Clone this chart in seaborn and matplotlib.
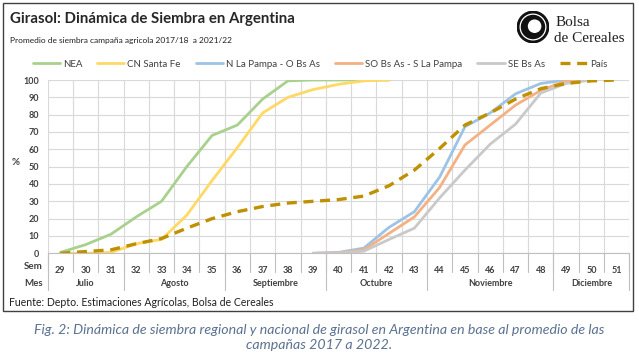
import numpy as np
import pandas as pd
import matplotlib
matplotlib.use("Agg")
import matplotlib.pyplot as plt
import matplotlib.transforms as mtransforms
from matplotlib.patches import Rectangle, Circle
import seaborn as sns

# weeks 29..51 of the year
weeks = list(range(29, 52))
nan = np.nan

nea = [0.5, 5, 11, 21, 30, 50, 68, 74, 89, 99.5, 100, 100, 100, 100,
       nan, nan, nan, nan, nan, nan, nan, nan, nan]
cn_santa_fe = [0, 0, 0.5, 5.5, 8, 22, 42, 61, 81, 90, 94.5, 97.5, 99.5, 100,
               nan, nan, nan, nan, nan, nan, nan, nan, nan]
n_la_pampa = [nan] * 10 + [0, 0.5, 3, 15, 24, 44, 73, 81, 92, 98, 100, 100, nan]
so_bs_as = [nan] * 10 + [0, 0.3, 2, 11.5, 21, 38, 62.5, 74, 85.5, 94, 99.5, 100, nan]
se_bs_as = [nan] * 10 + [0, 0.2, 1.2, 8, 14.5, 32, 48, 63, 74.5, 92.5, 98, 100, nan]
pais = [0, 1, 2, 5.5, 8.5, 14.5, 20, 24, 27, 29, 30, 31, 33, 39, 48, 60.5,
        74, 81, 89, 95, 98, 99.5, 100]

series_names = ["NEA", "CN Santa Fe", "N La Pampa - O Bs As",
                "SO Bs As - S La Pampa", "SE Bs As", "País"]
series_values = [nea, cn_santa_fe, n_la_pampa, so_bs_as, se_bs_as, pais]
series_colors = ["#A9D18E", "#FFD966", "#9DC3E6", "#F4B183", "#C9C9C9", "#BF9000"]

months = ["Julio", "Agosto", "Septiembre", "Octubre", "Noviembre", "Diciembre"]
month_weeks = [3, 4, 4, 4, 5, 3]

title = "Girasol: Dinámica de Siembra en Argentina"
subtitle = "Promedio de siembra campaña agricola 2017/18  a 2021/22"
source = "Fuente: Depto. Estimaciones Agrícolas, Bolsa de Cereales"
caption = ("Fig. 2: Dinámica de siembra regional y nacional de girasol en Argentina en base al promedio de las\n"
           "campañas 2017 a 2022.")

sns.set_theme(style="white")
plt.rcParams["font.family"] = ["Lato", "DejaVu Sans"]

W, H = 639, 356
fig = plt.figure(figsize=(W / 100, H / 100), dpi=100)
ax = fig.add_axes([47.7 / W, 1 - 253.3 / H, (629.3 - 47.7) / W, (253.3 - 80) / H])

x = np.arange(len(weeks))
for name, vals, col in zip(series_names, series_values, series_colors):
    df = pd.DataFrame({"x": x, "y": vals}).dropna()
    if name == "País":
        sns.lineplot(data=df, x="x", y="y", ax=ax, color=col, lw=2.4,
                     linestyle=(0, (3, 2)), label=name, zorder=5)
    else:
        sns.lineplot(data=df, x="x", y="y", ax=ax, color=col, lw=2.0,
                     label=name, solid_joinstyle="round")

ax.set_xlim(-0.5, len(weeks) - 0.5)
ax.set_ylim(0, 100)
ax.set_yticks(range(0, 101, 10))
ax.set_xticks(x)
ax.set_xticklabels(weeks)
ax.set_xticks(np.arange(-0.5, len(weeks), 1), minor=True)
ax.grid(False)
ax.grid(axis="y", which="major", color="#D9D9D9", lw=0.8)
ax.grid(axis="x", which="minor", color="#D9D9D9", lw=0.8)
ax.tick_params(axis="both", which="both", length=0)
ax.tick_params(axis="x", pad=9)
ax.tick_params(axis="y", pad=6)
for lab in ax.get_xticklabels() + ax.get_yticklabels():
    lab.set_fontsize(6.5)
    lab.set_fontweight("bold")
    lab.set_color("#404040")
ax.set_xlabel("")
ax.set_ylabel("%", rotation=0, fontsize=7, fontweight="bold", color="#404040")
ax.yaxis.set_label_coords(-0.055, 0.5)
for s in ["top", "right", "left"]:
    ax.spines[s].set_visible(False)
ax.spines["bottom"].set_color("#BFBFBF")
ax.spines["bottom"].set_linewidth(0.8)

# category table below the axis
trans = mtransforms.blended_transform_factory(ax.transData, ax.transAxes)
px = 1 / (253.3 - 80)
for b in np.arange(-0.5, len(weeks), 1):
    ax.plot([b, b], [0, -18.4 * px], transform=trans, color="#BFBFBF", lw=0.8, clip_on=False)
edges = np.concatenate([[0], np.cumsum(month_weeks)]) - 0.5
for b in edges:
    ax.plot([b, b], [0, -37 * px], transform=trans, color="#BFBFBF", lw=0.8, clip_on=False)
for m, a, b in zip(months, edges[:-1], edges[1:]):
    ax.text((a + b) / 2, -30.7 * px, m, transform=trans, ha="center", va="center",
            fontsize=6.5, fontweight="bold", color="#404040")
fig.text(33.3 / W, 1 - 266.7 / H, "Sem", ha="center", va="center", fontsize=7,
         fontweight="bold", color="#404040")
fig.text(33.3 / W, 1 - 284 / H, "Mes", ha="center", va="center", fontsize=7,
         fontweight="bold", color="#404040")

leg = ax.legend(ncol=6, loc="center", bbox_to_anchor=(0.468, 1.092), frameon=False,
                fontsize=7, handlelength=2.8, columnspacing=1.55, handletextpad=0.3)
for t in leg.get_texts():
    t.set_color("#404040")

# header, source, frame and caption
fig.text(10 / W, 1 - 19 / H, title, ha="left", va="center", fontsize=10.8,
         fontweight="bold", color="#262626")
fig.text(10 / W, 1 - 40 / H, subtitle, ha="left", va="center", fontsize=6, color="#202020")
fig.text(9 / W, 1 - 302 / H, source, ha="left", va="center", fontsize=7.6, color="#202020")
fig.add_artist(Rectangle((3 / W, 1 - 311 / H), 630 / W, 308 / H, transform=fig.transFigure,
                         fill=False, edgecolor="#404040", lw=1.0))
fig.text(0.5, 1 - 337.5 / H, caption, ha="center", va="center", fontsize=10.2,
         style="italic", color="#5B7190", linespacing=1.3)

# logo
lax = fig.add_axes([517 / W, 1 - 43 / H, 32 / W, 32 / H])
lax.set_aspect("equal")
lax.set_xlim(-1, 1)
lax.set_ylim(-1, 1)
lax.axis("off")
lax.add_patch(Circle((0, 0), 0.98, color="#111111"))
lax.add_patch(Circle((0, 0), 0.80, color="white"))
lax.add_patch(Circle((0, 0), 0.72, color="#111111"))
lax.add_patch(Circle((0.1, 0.05), 0.38, color="white"))
fig.text(556 / W, 1 - 22 / H, "Bolsa", ha="left", va="center", fontsize=11,
         family=["Liberation Serif", "DejaVu Serif"], color="#202020")
fig.text(554 / W, 1 - 38 / H, "de Cereales", ha="left", va="center", fontsize=11,
         family=["Liberation Serif", "DejaVu Serif"], color="#202020")

fig.savefig("out.png", dpi=100, facecolor="white")
